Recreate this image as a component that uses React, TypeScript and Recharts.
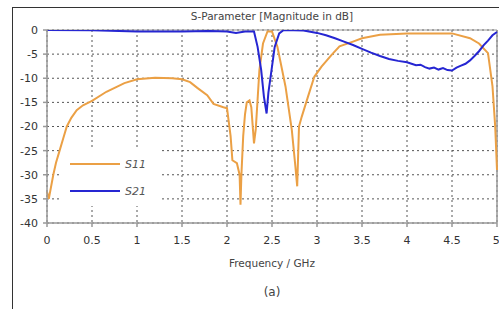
import React from 'react';
import {
  LineChart,
  Line,
  XAxis,
  YAxis,
  CartesianGrid,
  Legend,
  ReferenceLine,
} from 'recharts';

// S11 trace (GHz / dB)
const s11Freq = [
  0, 0.02, 0.07, 0.1, 0.14, 0.18, 0.22, 0.27, 0.33, 0.4, 0.5, 0.66, 0.86, 1.0,
  1.2, 1.39, 1.5, 1.59, 1.67, 1.78, 1.85, 1.96, 2.0, 2.04, 2.06, 2.11, 2.14,
  2.15, 2.16, 2.18, 2.2, 2.22, 2.25, 2.27, 2.3, 2.32, 2.36, 2.4, 2.45, 2.5,
  2.56, 2.65, 2.72, 2.76, 2.78, 2.8, 2.83, 2.9, 2.97, 3.05, 3.16, 3.25, 3.4,
  3.5, 3.7, 4.0, 4.25, 4.5, 4.7, 4.8, 4.9, 4.95, 4.98, 5.0,
];
const s11Db = [
  -33.5, -35, -30, -27.5, -25, -22.5, -20, -18.2, -16.6, -15.6, -14.7, -12.8,
  -11, -10.2, -9.9, -10, -10.2, -10.8, -12, -13.5, -15.3, -16, -16.2, -22, -27,
  -27.6, -30, -36.2, -30, -22, -17.5, -15, -14.6, -16, -23.5, -20.5, -8.3,
  -2.8, -0.3, -0.3, -3.5, -11.7, -20.7, -28.3, -32.4, -20, -18, -13.8, -9.7,
  -7.6, -5.2, -3.4, -2.4, -1.7, -1.0, -0.7, -0.7, -0.7, -1.7, -2.8, -4.8,
  -11.7, -20, -29,
];

// S21 trace
const s21Freq = [
  0, 0.5, 0.8, 1.0, 1.5, 1.8, 2.0, 2.1, 2.2, 2.3, 2.34, 2.38, 2.41, 2.44, 2.46,
  2.5, 2.53, 2.58, 2.63, 2.85, 3.0, 3.1, 3.2, 3.3, 3.4, 3.5, 3.6, 3.7, 3.8, 3.9,
  4.0, 4.05, 4.1, 4.15, 4.2, 4.25, 4.3, 4.35, 4.4, 4.45, 4.5, 4.55, 4.6, 4.65,
  4.7, 4.75, 4.8, 4.85, 4.9, 4.95, 5.0,
];
const s21Db = [
  0, -0.05, -0.2, -0.3, -0.3, -0.2, -0.3, -0.6, -0.3, -0.3, -3.5, -8.3, -13.8,
  -17.3, -13, -7.6, -3.5, -0.7, 0, -0.1, -0.6, -1.1, -1.7, -2.4, -3.1, -3.9,
  -4.7, -5.4, -6, -6.4, -6.7, -7.0, -7.3, -7.2, -7.7, -8.0, -7.8, -8.2, -7.9,
  -8.3, -8.4, -7.8, -7.4, -7.0, -6.3, -5.4, -4.4, -3.2, -2.2, -1.1, -0.4,
];

const xTicks = [0, 0.5, 1, 1.5, 2, 2.5, 3, 3.5, 4, 4.5, 5];
const yTicks = [0, -5, -10, -15, -20, -25, -30, -35, -40];

const S11_COLOR = '#EBA045';
const S21_COLOR = '#2626D2';
const FONT = 'DejaVu Sans, sans-serif';

const toPoints = (xs: number[], ys: number[]) =>
  xs.map((f, i) => ({ f, db: ys[i] }));

const s11Data = toPoints(s11Freq, s11Db);
const s21Data = toPoints(s21Freq, s21Db);

const LegendBox = () => (
  <svg width={100} height={56} style={{ display: 'block' }}>
    {[
      { name: 'S11', color: S11_COLOR, y: 14 },
      { name: 'S21', color: S21_COLOR, y: 41 },
    ].map((it) => (
      <g key={it.name}>
        <line x1={8} x2={58} y1={it.y} y2={it.y} stroke={it.color} strokeWidth={2} />
        <text
          x={63}
          y={it.y + 4}
          fontSize={11}
          fontStyle="italic"
          fill="#555"
          fontFamily={FONT}
        >
          {it.name}
        </text>
      </g>
    ))}
  </svg>
);

export default function App() {
  return (
    <div
      style={{
        position: 'absolute',
        left: 0,
        top: 0,
        width: 499,
        height: 309,
        background: '#fff',
        fontFamily: FONT,
      }}
    >
      {/* outer frame */}
      <div
        style={{
          position: 'absolute',
          left: 12,
          top: 7,
          width: 487,
          height: 302,
          borderLeft: '1.5px solid #333',
          borderTop: '1.5px solid #333',
        }}
      />
      <div
        style={{
          position: 'absolute',
          left: 47,
          width: 450,
          top: 10,
          textAlign: 'center',
          fontSize: 10.5,
          color: '#444',
        }}
      >
        S-Parameter [Magnitude in dB]
      </div>
      <div
        style={{
          position: 'absolute',
          left: 47,
          width: 450,
          top: 285,
          textAlign: 'center',
          fontSize: 12,
          color: '#444',
        }}
      >
        (a)
      </div>

      <div style={{ position: 'absolute', left: 0, top: 0 }}>
        <LineChart
          width={499}
          height={309}
          margin={{ top: 30, right: 2, left: 0, bottom: 56 }}
        >
          <CartesianGrid stroke="#555" strokeDasharray="2 3" />
          <XAxis
            type="number"
            dataKey="f"
            domain={[0, 5]}
            ticks={xTicks}
            allowDuplicatedCategory={false}
            height={30}
            stroke="#999"
            strokeWidth={1.5}
            tickSize={4}
            tickMargin={9}
            tick={{ fontSize: 11, fill: '#333', fontFamily: FONT }}
            label={{
              value: 'Frequency / GHz',
              position: 'insideBottom',
              offset: -14,
              fontSize: 10.5,
              fill: '#444',
              fontFamily: FONT,
            }}
          />
          <YAxis
            type="number"
            dataKey="db"
            domain={[-40, 0]}
            ticks={yTicks}
            allowDataOverflow
            width={47}
            stroke="#999"
            strokeWidth={1.5}
            tickSize={4}
            tickMargin={5}
            tick={{ fontSize: 11, fill: '#333', fontFamily: FONT }}
          />
          <ReferenceLine x={5} stroke="#999" strokeWidth={1.5} />
          <ReferenceLine y={0} stroke="#999" strokeWidth={1} />
          <Legend
            layout="horizontal"
            verticalAlign="middle"
            align="center"
            wrapperStyle={{
              left: 62,
              top: 150,
              width: 100,
              height: 56,
              background: '#fff',
            }}
            content={() => <LegendBox />}
          />

          {/* return loss */}
          <Line
            data={s11Data}
            dataKey="db"
            name="S11"
            type="linear"
            stroke={S11_COLOR}
            strokeWidth={2}
            dot={false}
            isAnimationActive={false}
          />
          {/* transmission */}
          <Line
            data={s21Data}
            dataKey="db"
            name="S21"
            type="linear"
            stroke={S21_COLOR}
            strokeWidth={2}
            dot={false}
            isAnimationActive={false}
          />
        </LineChart>
      </div>
    </div>
  );
}
